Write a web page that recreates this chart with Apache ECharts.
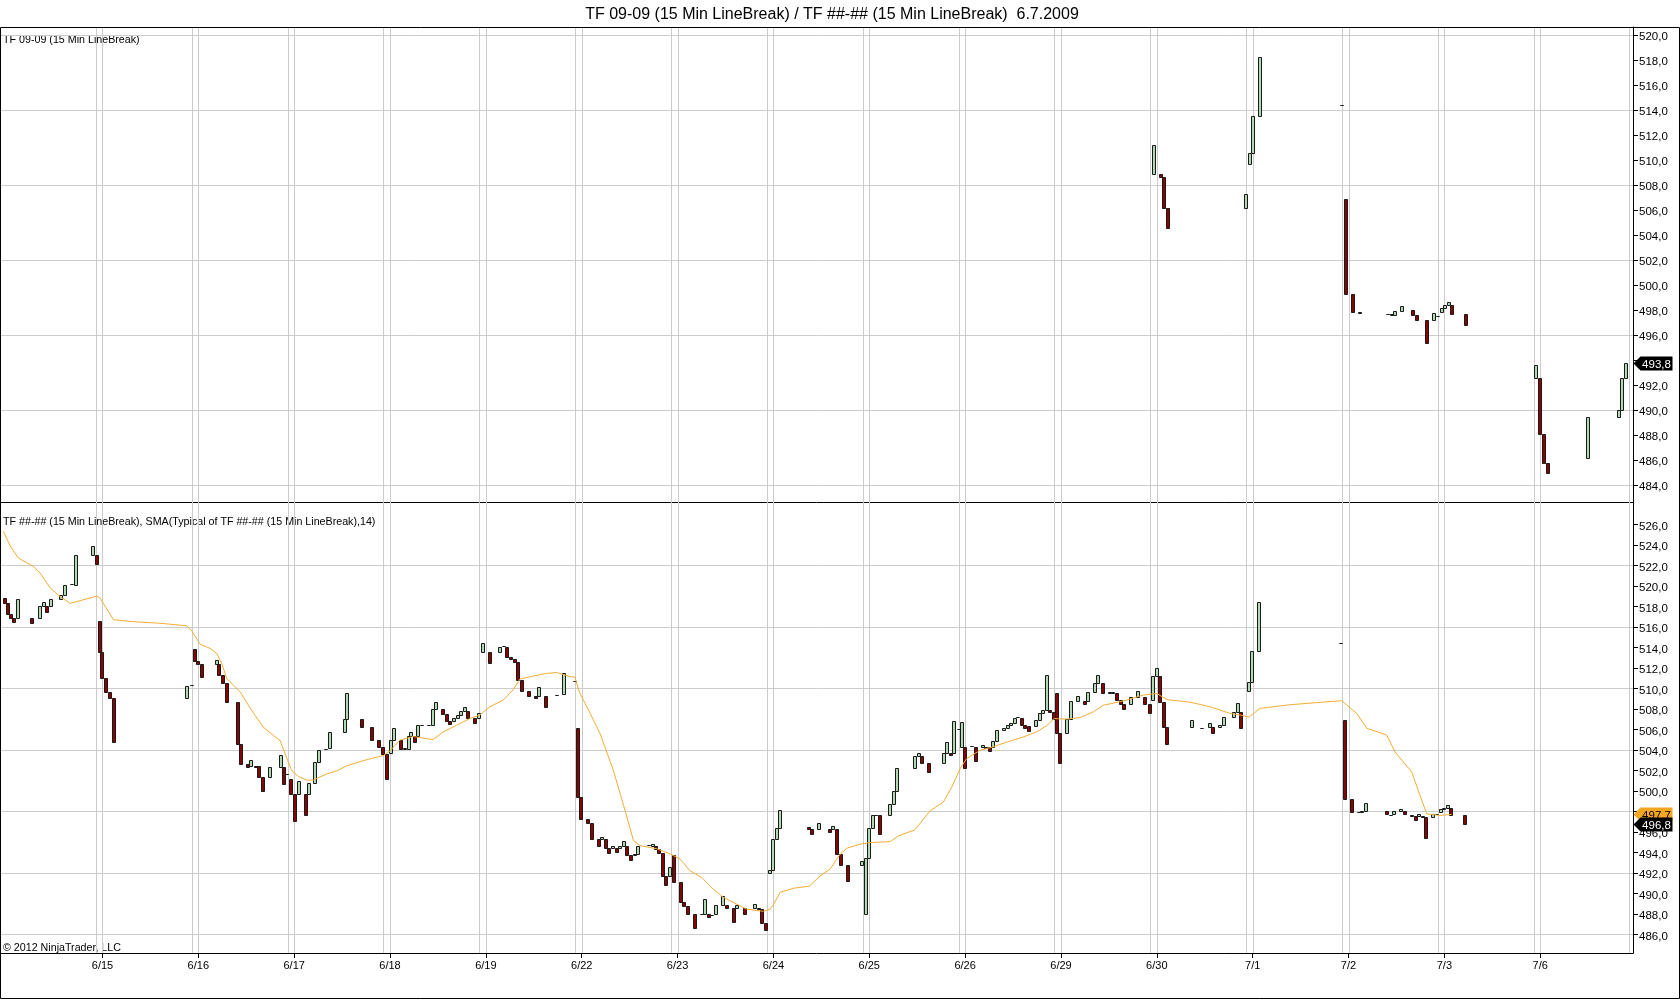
<!DOCTYPE html>
<html>
<head>
<meta charset="utf-8">
<script src="https://cdn.jsdelivr.net/npm/echarts@6/dist/echarts.min.js"></script>
<style>
html,body{margin:0;padding:0;background:#fff;}
#c{width:1680px;height:1000px;}
</style>
</head>
<body>
<div id="c"></div>
<script>
// ---------------- DATA ----------------
const titleText = 'TF 09-09 (15 Min LineBreak) / TF ##-## (15 Min LineBreak)  6.7.2009';
const topPanelLabel = 'TF 09-09 (15 Min LineBreak)';
const bottomPanelLabel = 'TF ##-## (15 Min LineBreak), SMA(Typical of TF ##-## (15 Min LineBreak),14)';
const copyrightText = '\u00A9 2012 NinjaTrader, LLC';

// trading-day index (6/15 = 1) and labels
const dayTicks = [1, 2, 3, 4, 5, 6, 7, 8, 9, 10, 11, 12, 13, 14, 15, 16];
const dayLabels = ['6/15', '6/16', '6/17', '6/18', '6/19', '6/22', '6/23', '6/24', '6/25', '6/26', '6/29', '6/30', '7/1', '7/2', '7/3', '7/6'];
const dayLines = [1, 2, 3, 4, 5, 6, 7, 8, 9, 10, 11, 12, 13, 14, 15, 16, 17];

const topAxisTicks = [484, 486, 488, 490, 492, 494, 496, 498, 500, 502, 504, 506, 508, 510, 512, 514, 516, 518, 520];
const bottomAxisTicks = [486, 488, 490, 492, 494, 496, 498, 500, 502, 504, 506, 508, 510, 512, 514, 516, 518, 520, 522, 524, 526];
const topGridLevels = [484, 490, 496, 502, 508, 514, 520];
const bottomGridLevels = [486, 492, 498, 504, 510, 516, 522];

// TF 09-09 line-break bars (time in trading days, open, close)
const topTime = [11.972, 12.045, 12.077, 12.118, 12.932, 12.974, 13.005, 13.078, 13.934, 13.976, 14.049, 14.12, 14.414, 14.456, 14.487, 14.56, 14.675, 14.716, 14.82, 14.894, 14.936, 14.977, 15.01, 15.05, 15.08, 15.228, 15.96, 16.0, 16.04, 16.08, 16.5, 16.82, 16.85, 16.9];
const topOpen = [508.9, 508.9, 508.65, 506.15, 506.15, 509.7, 510.55, 513.55, 514.4, 506.9, 499.3, 497.85, 497.7, 497.6, 497.65, 497.95, 498.0, 497.6, 497.2, 497.2, 497.55, 497.9, 498.15, 498.45, 498.45, 497.7, 492.6, 492.6, 488.1, 485.8, 486.2, 489.5, 490.0, 492.6];
const topClose = [511.2, 508.65, 506.15, 504.55, 507.3, 510.55, 513.55, 518.25, 514.4, 499.3, 497.9, 497.75, 497.7, 497.7, 497.95, 498.35, 497.6, 497.2, 495.35, 497.75, 497.55, 498.15, 498.45, 498.7, 497.7, 496.8, 493.6, 488.1, 485.8, 485.0, 489.5, 490.0, 492.6, 493.8];

// TF ##-## line-break bars
const lowTime = [-0.02, 0.01, 0.05, 0.08, 0.12, 0.27, 0.35, 0.39, 0.42, 0.46, 0.57, 0.61, 0.68, 0.72, 0.90, 0.94, 0.97, 1.00, 1.04, 1.08,
  1.12, 1.886, 1.93, 1.97, 2.00, 2.04, 2.19, 2.22, 2.26, 2.30, 2.41, 2.45, 2.52, 2.55, 2.60, 2.63, 2.68, 2.75, 2.86, 2.89,
  2.93, 2.97, 3.004, 3.046, 3.119, 3.15, 3.22, 3.262, 3.335, 3.376, 3.526, 3.554, 3.71, 3.814, 3.887, 3.929, 3.972, 4.007, 4.045, 4.118,
  4.153, 4.195, 4.22, 4.264, 4.296, 4.337, 4.41, 4.452, 4.483, 4.557, 4.598, 4.63, 4.671, 4.713, 4.744, 4.786, 4.817, 4.89, 4.932, 4.974,
  5.047, 5.151, 5.193, 5.22, 5.263, 5.3, 5.339, 5.381, 5.454, 5.527, 5.558, 5.631, 5.746, 5.819, 5.934, 5.965, 5.993, 6.07, 6.11, 6.185,
  6.216, 6.257, 6.289, 6.33, 6.372, 6.403, 6.445, 6.477, 6.518, 6.557, 6.59, 6.703, 6.748, 6.779, 6.81, 6.852, 6.883, 6.925, 6.967, 7.04,
  7.07, 7.113, 7.186, 7.26, 7.29, 7.33, 7.36, 7.405, 7.478, 7.52, 7.593, 7.624, 7.708, 7.812, 7.854, 7.885, 7.924, 7.969, 8.0, 8.042,
  8.073, 8.375, 8.407, 8.48, 8.594, 8.626, 8.667, 8.709, 8.782, 8.928, 8.97, 9.0, 9.043, 9.074, 9.116, 9.22, 9.262, 9.293, 9.48, 9.522,
  9.554, 9.627, 9.783, 9.815, 9.856, 9.887, 9.933, 9.971, 10.0, 10.075, 10.117, 10.19, 10.22, 10.263, 10.294, 10.336, 10.41, 10.45, 10.48, 10.52,
  10.555, 10.597, 10.628, 10.67, 10.742, 10.784, 10.816, 10.857, 10.89, 10.93, 10.96, 10.993, 11.066, 11.107, 11.18, 11.253, 11.285, 11.36, 11.39, 11.434,
  11.507, 11.54, 11.58, 11.622, 11.653, 11.726, 11.8, 11.88, 11.924, 11.965, 11.997, 12.038, 12.07, 12.11, 12.372, 12.476, 12.55, 12.59, 12.664, 12.706,
  12.81, 12.85, 12.883, 12.966, 12.997, 13.07, 13.926, 13.967, 14.04, 14.113, 14.145, 14.186, 14.405, 14.447, 14.478, 14.551, 14.593, 14.666, 14.708, 14.74,
  14.78, 14.812, 14.885, 14.927, 14.968, 15.0, 15.04, 15.073, 15.219];
const lowOpen = [518.8, 518.3, 517.3, 516.9, 516.9, 516.9, 516.9, 518.0, 518.0, 518.0, 518.7, 519.1, 520.15, 520.1, 523.0, 523.0, 516.6, 513.5, 511.0, 509.6,
  509.1, 509.1, 510.3, 513.8, 512.7, 512.4, 512.4, 512.4, 511.35, 510.5, 508.7, 504.6, 502.65, 502.45, 502.45, 502.4, 501.35, 501.35, 502.3, 502.3,
  501.6, 501.2, 499.7, 499.7, 499.7, 499.7, 500.8, 502.8, 504.1, 504.2, 505.7, 507.0, 507.0, 506.2, 505.0, 504.3, 503.6, 503.7, 505.0, 505.0,
  504.1, 504.1, 505.35, 505.35, 505.35, 506.45, 506.4, 506.4, 508.0, 508.0, 507.5, 506.85, 506.85, 507.1, 507.4, 507.8, 507.8, 507.1, 507.1, 513.5,
  513.5, 513.5, 514.1, 514.0, 513.1, 512.9, 512.55, 510.85, 509.7, 509.3, 509.3, 509.3, 509.35, 509.4, 510.75, 506.1, 499.4, 497.3, 496.85, 495.3,
  495.3, 495.3, 494.4, 494.4, 494.4, 494.4, 494.65, 494.65, 493.75, 493.75, 493.85, 494.7, 494.65, 494.65, 494.3, 493.9, 491.7, 491.7, 493.7, 491.1,
  489.2, 488.8, 487.95, 487.95, 487.95, 488.0, 487.9, 488.0, 488.9, 488.9, 488.6, 488.6, 488.6, 488.6, 488.6, 488.45, 487.1, 491.95, 492.3, 495.3,
  496.4, 496.5, 496.3, 496.3, 496.3, 496.3, 496.3, 493.8, 492.75, 492.75, 488.0, 493.4, 496.4, 497.6, 497.6, 497.6, 498.7, 500.0, 502.2, 503.4,
  503.4, 502.75, 502.75, 503.7, 503.7, 503.7, 506.0, 504.3, 504.3, 504.35, 504.3, 504.3, 504.3, 504.3, 504.3, 504.9, 505.9, 506.1, 506.4, 506.6,
  507.2, 507.15, 506.4, 506.3, 506.3, 506.95, 507.55, 507.9, 507.9, 507.65, 509.5, 505.65, 505.65, 507.05, 508.8, 508.8, 508.8, 509.6, 510.55, 510.55,
  509.5, 509.5, 509.5, 508.9, 508.5, 508.5, 509.2, 509.2, 508.45, 508.9, 511.2, 511.2, 508.7, 506.2, 506.2, 506.15, 506.2, 506.2, 506.2, 506.4,
  507.2, 507.7, 507.7, 509.7, 510.6, 513.6, 514.4, 506.9, 499.2, 497.9, 497.9, 498.0, 498.0, 497.6, 497.7, 498.0, 498.0, 497.6, 497.55, 497.55,
  497.5, 497.45, 497.45, 497.7, 497.9, 498.2, 498.35, 498.35, 497.65];
const lowClose = [518.3, 517.3, 516.9, 516.5, 518.7, 516.4, 518.0, 518.4, 517.4, 518.7, 519.1, 520.1, 520.15, 523.0, 523.9, 522.1, 513.5, 511.0, 509.6, 509.1,
  504.8, 510.2, 510.3, 512.7, 512.4, 511.1, 512.8, 511.35, 510.5, 508.7, 504.6, 502.65, 502.3, 503.05, 502.3, 501.35, 499.95, 502.3, 503.45, 500.7,
  501.6, 499.7, 497.1, 501.0, 497.6, 500.8, 502.8, 504.0, 504.1, 505.7, 507.0, 509.5, 506.2, 505.0, 504.3, 503.6, 501.2, 505.0, 506.1, 504.1,
  504.2, 505.35, 505.7, 504.8, 506.4, 506.45, 506.4, 508.0, 508.65, 507.5, 506.85, 506.5, 507.1, 507.4, 507.8, 508.15, 507.1, 506.6, 507.6, 514.4,
  512.5, 514.0, 514.1, 513.1, 512.9, 512.55, 510.85, 509.7, 509.3, 509.1, 510.1, 508.2, 509.35, 511.5, 510.75, 499.4, 497.3, 496.85, 495.3, 494.6,
  495.5, 494.4, 493.9, 494.65, 494.0, 494.65, 495.1, 493.75, 493.25, 493.85, 494.65, 494.7, 494.8, 494.3, 493.9, 491.7, 490.8, 492.6, 491.1, 489.2,
  488.8, 487.95, 486.6, 488.0, 489.4, 487.7, 487.9, 488.9, 489.75, 488.6, 487.2, 488.85, 488.0, 489.0, 488.45, 487.1, 486.4, 492.3, 495.3, 496.4,
  498.1, 496.3, 495.8, 496.9, 495.95, 496.55, 493.8, 492.75, 491.2, 493.2, 493.4, 496.4, 497.6, 497.6, 495.8, 498.7, 500.0, 502.2, 503.4, 503.7,
  502.75, 501.8, 503.7, 504.8, 503.5, 506.8, 506.0, 506.7, 502.2, 504.35, 502.9, 504.5, 504.2, 503.85, 504.9, 505.9, 506.1, 506.4, 506.6, 507.15,
  507.2, 506.4, 506.1, 505.85, 506.95, 507.55, 507.9, 511.3, 507.65, 507.0, 505.65, 502.75, 507.05, 508.8, 509.25, 508.5, 509.6, 510.55, 511.3, 509.5,
  509.6, 509.65, 508.9, 508.5, 508.0, 509.2, 509.7, 508.45, 507.6, 511.2, 512.0, 508.7, 506.2, 504.6, 506.9, 506.15, 506.6, 505.6, 506.4, 507.2,
  507.7, 508.55, 506.1, 510.6, 513.6, 518.4, 514.4, 499.2, 497.9, 497.9, 498.0, 498.85, 497.7, 497.6, 498.0, 498.25, 497.7, 497.55, 497.2, 497.75,
  497.45, 495.4, 497.75, 497.7, 498.2, 498.35, 498.65, 497.65, 496.8];

// SMA(Typical, 14) of TF ##-##
const smaTime = [-0.033, 0.037, 0.123, 0.28, 0.35, 0.454, 0.558, 0.663, 0.784, 0.941, 0.976, 1.028, 1.115, 1.323, 1.6, 1.88, 1.932, 2.02, 2.123, 2.193,
  2.245, 2.297, 2.367, 2.437, 2.523, 2.593, 2.68, 2.784, 2.854, 2.906, 2.976, 3.045, 3.132, 3.2, 3.34, 3.445, 3.55, 3.723, 3.932, 4.0,
  4.103, 4.242, 4.45, 4.555, 4.694, 4.833, 4.937, 5.041, 5.18, 5.285, 5.354, 5.493, 5.632, 5.737, 5.806, 5.876, 5.93, 5.962, 5.983, 6.07,
  6.191, 6.33, 6.452, 6.54, 6.609, 6.783, 6.922, 7.026, 7.13, 7.252, 7.374, 7.478, 7.617, 7.722, 7.896, 7.965, 8.0, 8.07, 8.209, 8.375,
  8.487, 8.59, 8.695, 8.765, 8.904, 9.008, 9.217, 9.303, 9.477, 9.634, 9.773, 9.86, 9.947, 10.017, 10.155, 10.294, 10.433, 10.607, 10.746, 10.85,
  10.93, 11.059, 11.198, 11.337, 11.441, 11.545, 11.684, 11.823, 11.861, 12.0, 12.104, 12.348, 12.556, 12.765, 12.869, 12.963, 13.077, 13.39, 13.929, 14.086,
  14.19, 14.398, 14.485, 14.659, 14.746, 14.816, 14.954, 15.076];
const smaValue = [525.3, 523.9, 522.7, 521.9, 521.25, 519.8, 518.95, 518.3, 518.6, 519.0, 518.8, 518.0, 516.7, 516.5, 516.35, 516.1, 515.6, 514.3, 513.9, 513.4,
  512.4, 510.95, 510.3, 509.65, 508.35, 507.35, 506.2, 505.4, 504.9, 503.6, 501.95, 501.4, 501.05, 501.05, 501.65, 501.95, 502.45, 502.95, 503.45, 503.9,
  504.95, 505.3, 505.0, 505.75, 506.4, 507.05, 507.4, 508.2, 508.85, 509.85, 510.9, 511.2, 511.45, 511.55, 511.35, 511.15, 511.1, 510.0, 509.5, 507.9,
  505.6, 502.0, 498.1, 495.15, 494.65, 494.35, 493.85, 493.35, 492.2, 491.55, 490.4, 489.6, 488.95, 488.45, 488.25, 488.45, 488.9, 490.1, 490.5, 490.7,
  491.7, 492.35, 493.8, 494.4, 494.8, 494.95, 495.05, 495.6, 496.2, 498.05, 498.9, 500.35, 502.15, 503.15, 503.95, 504.3, 504.75, 505.25, 505.75, 506.35,
  507.05, 507.0, 507.15, 507.7, 508.35, 508.55, 508.85, 509.25, 509.35, 509.5, 508.9, 508.65, 508.2, 507.55, 507.4, 507.2, 508.05, 508.4, 508.8, 507.55,
  506.1, 505.45, 503.8, 501.85, 499.55, 497.75, 497.6, 497.7];

// ---------------- STYLE ----------------
const FONT = '"Liberation Sans", Arial, sans-serif';
const X_MIN = -0.069, X_MAX = 16.968;
const SESSION_OFFSET = 0.069;
const UP_FILL = '#b2dab2', DOWN_FILL = '#8b0000', EDGE = '#1a1a1a';
const GRID_COLOR = '#cccccc';
const SMA_COLOR = '#f3ad35';

const fmt = v => v.toFixed(1).replace('.', ',');

function barItem(params, api) {
  const d = api.value(0), o = api.value(1), c = api.value(2);
  const p1 = api.coord([d, o]), p2 = api.coord([d, c]);
  const x = Math.round(p1[0]) - 1.5;
  const yTop = Math.round(Math.min(p1[1], p2[1])) + 0.5;
  const yBot = Math.round(Math.max(p1[1], p2[1])) + 0.5;
  const flat = Math.abs(yBot - yTop) < 1;
  return {
    type: 'rect',
    shape: { x: x, y: yTop, width: 3, height: Math.max(yBot - yTop, 0) },
    style: { fill: flat ? EDGE : (c > o ? UP_FILL : DOWN_FILL), stroke: EDGE, lineWidth: 1 }
  };
}

function hGridItem(params, api) {
  const cs = params.coordSys;
  const y = Math.round(api.coord([X_MIN, api.value(0)])[1]) + 0.5;
  return { type: 'line', silent: true, shape: { x1: cs.x, y1: y, x2: cs.x + cs.width, y2: y },
           style: { stroke: GRID_COLOR, lineWidth: 1 } };
}

function vGridItem(params, api) {
  const cs = params.coordSys;
  const d = api.value(0);
  const children = [];
  [d - SESSION_OFFSET, d].forEach(v => {
    const x = Math.round(api.coord([v, 500])[0]) + 0.5;
    if (x > cs.x && x < cs.x + cs.width) {
      children.push({ type: 'line', shape: { x1: x, y1: cs.y, x2: x, y2: cs.y + cs.height },
                      style: { stroke: GRID_COLOR, lineWidth: 1 } });
    }
  });
  return { type: 'group', silent: true, children: children };
}

function makeTag(bg, fg) {
  return function (params, api) {
    const cs = params.coordSys;
    const y = Math.round(api.coord([X_MAX, api.value(0)])[1]) + 0.5;
    const x0 = cs.x + cs.width + 0.5;
    const h = 7;
    return {
      type: 'group',
      children: [
        { type: 'polygon', shape: { points: [[x0, y], [x0 + 7, y - h], [x0 + 39, y - h], [x0 + 39, y + h], [x0 + 7, y + h]] },
          style: { fill: bg } },
        { type: 'text', x: x0 + 23, y: y + 1, style: { text: fmt(api.value(0)), fill: fg, align: 'center', verticalAlign: 'middle',
          fontSize: 11.5, fontFamily: FONT } }
      ]
    };
  };
}

const zip3 = (a, b, c) => a.map((v, i) => [v, b[i], c[i]]);

const chart = echarts.init(document.getElementById('c'), null, { renderer: 'canvas' });

const yAxisCommon = (ticks) => ({
  type: 'value', position: 'right', scale: true,
  axisLine: { show: true, onZero: false, lineStyle: { color: '#000', width: 1 } },
  axisTick: { show: true, length: 5, customValues: ticks, lineStyle: { color: '#000' } },
  axisLabel: { customValues: ticks, formatter: v => '{v|' + fmt(v) + '}', margin: 6, color: '#000', fontSize: 11.5, fontFamily: FONT,
               rich: { v: { color: '#000', fontSize: 11.5, fontFamily: FONT, padding: [4, 0, 0, 0] } } },
  splitLine: { show: false }
});

const option = {
  animation: false,
  backgroundColor: '#fff',
  grid: [
    { left: 0, right: 47, top: 27, height: 475 },
    { left: 0, right: 47, top: 502, height: 451 }
  ],
  xAxis: [
    { gridIndex: 0, type: 'value', min: X_MIN, max: X_MAX,
      axisLine: { show: true, onZero: false, lineStyle: { color: '#000' } }, axisTick: { show: false }, axisLabel: { show: false }, splitLine: { show: false } },
    { gridIndex: 1, type: 'value', min: X_MIN, max: X_MAX,
      axisLine: { show: true, onZero: false, lineStyle: { color: '#000' } },
      axisTick: { show: true, length: 5, customValues: dayTicks, lineStyle: { color: '#000' } },
      axisLabel: { customValues: dayTicks, formatter: v => dayLabels[dayTicks.indexOf(Math.round(v))] || '', margin: 7.5,
                   color: '#000', fontSize: 11, fontFamily: FONT },
      splitLine: { show: false } }
  ],
  yAxis: [
    Object.assign({ gridIndex: 0, min: 482.66, max: 520.66 }, yAxisCommon(topAxisTicks)),
    Object.assign({ gridIndex: 1, min: 484.18, max: 528.18 }, yAxisCommon(bottomAxisTicks))
  ],
  series: [
    { type: 'custom', xAxisIndex: 0, yAxisIndex: 0, z: 1, silent: true, renderItem: hGridItem, data: topGridLevels.map(v => [v]) },
    { type: 'custom', xAxisIndex: 1, yAxisIndex: 1, z: 1, silent: true, renderItem: hGridItem, data: bottomGridLevels.map(v => [v]) },
    { type: 'custom', xAxisIndex: 0, yAxisIndex: 0, z: 1, silent: true, renderItem: vGridItem, data: dayLines.map(v => [v]) },
    { type: 'custom', xAxisIndex: 1, yAxisIndex: 1, z: 1, silent: true, renderItem: vGridItem, data: dayLines.map(v => [v]) },
    { name: 'TF 09-09', type: 'custom', xAxisIndex: 0, yAxisIndex: 0, z: 3, renderItem: barItem,
      encode: { x: 0, y: [1, 2] }, data: zip3(topTime, topOpen, topClose) },
    { name: 'TF ##-##', type: 'custom', xAxisIndex: 1, yAxisIndex: 1, z: 3, renderItem: barItem,
      encode: { x: 0, y: [1, 2] }, data: zip3(lowTime, lowOpen, lowClose) },
    { name: 'SMA', type: 'line', xAxisIndex: 1, yAxisIndex: 1, z: 4, showSymbol: false, symbol: 'none',
      lineStyle: { color: SMA_COLOR, width: 1 }, data: smaTime.map((t, i) => [t, smaValue[i]]) },
    { type: 'custom', xAxisIndex: 0, yAxisIndex: 0, z: 10, clip: false, renderItem: makeTag('#000', '#fff'),
      data: [[topClose[topClose.length - 1]]] },
    { type: 'custom', xAxisIndex: 1, yAxisIndex: 1, z: 10, clip: false, renderItem: makeTag('#f5a623', '#000'),
      data: [[smaValue[smaValue.length - 1]]] },
    { type: 'custom', xAxisIndex: 1, yAxisIndex: 1, z: 11, clip: false, renderItem: makeTag('#000', '#fff'),
      data: [[lowClose[lowClose.length - 1]]] }
  ],
  graphic: [
    { type: 'rect', silent: true, z: 50, shape: { x: 0.5, y: 27.5, width: 1679, height: 971 },
      style: { fill: null, stroke: '#000', lineWidth: 1 } },
    { type: 'text', x: 832, y: 14.5, style: { text: titleText, fill: '#000', fontSize: 16, fontFamily: FONT, align: 'center', verticalAlign: 'middle' } },
    { type: 'text', x: 3, y: 40.5, style: { text: topPanelLabel, fill: '#000', fontSize: 10.7, fontFamily: FONT, align: 'left', verticalAlign: 'middle' } },
    { type: 'text', x: 3, y: 522.5, style: { text: bottomPanelLabel, fill: '#000', fontSize: 10.7, fontFamily: FONT, align: 'left', verticalAlign: 'middle' } },
    { type: 'text', x: 3, y: 948.5, style: { text: copyrightText, fill: '#000', fontSize: 10.7, fontFamily: FONT, align: 'left', verticalAlign: 'middle' } }
  ]
};
chart.setOption(option);
</script>
</body>
</html>
